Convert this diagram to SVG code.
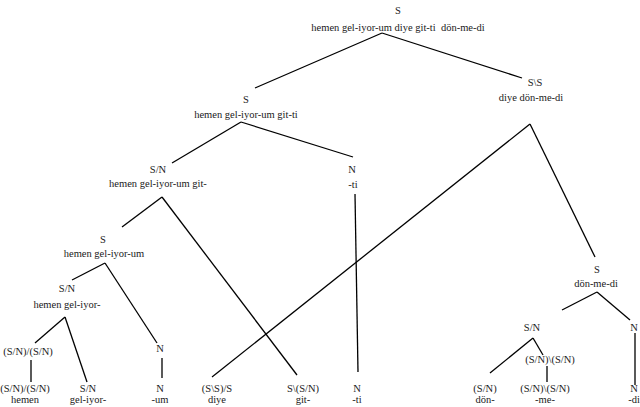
<svg xmlns="http://www.w3.org/2000/svg" width="640" height="407" viewBox="0 0 640 407">
<style>
text{font-family:'Liberation Serif','Times New Roman',serif;font-size:10.5px;fill:#1a1a1a;text-anchor:middle}
.e line{stroke:#000;stroke-width:1.3;fill:none}
</style>
<rect width="640" height="407" fill="#fff"/>
<g class="e" id="edges">
<line x1="382" y1="33" x2="255" y2="88"/>
<line x1="382" y1="33" x2="522" y2="78"/>
<line x1="241" y1="122" x2="172" y2="163"/>
<line x1="241" y1="122" x2="353" y2="157"/>
<line x1="162" y1="197" x2="122" y2="227"/>
<line x1="162" y1="197" x2="297" y2="375"/>
<line x1="355" y1="194" x2="358" y2="372"/>
<line x1="105" y1="263" x2="72" y2="280"/>
<line x1="105" y1="263" x2="157" y2="343"/>
<line x1="65" y1="317" x2="35" y2="343"/>
<line x1="65" y1="317" x2="87" y2="382"/>
<line x1="31" y1="360" x2="31" y2="382"/>
<line x1="162" y1="358" x2="162" y2="378"/>
<line x1="530" y1="124" x2="212" y2="377"/>
<line x1="530" y1="124" x2="595" y2="257"/>
<line x1="597" y1="292" x2="562" y2="310"/>
<line x1="597" y1="292" x2="630" y2="320"/>
<line x1="533" y1="338" x2="490" y2="373"/>
<line x1="533" y1="338" x2="543" y2="355"/>
<line x1="547" y1="366" x2="547" y2="382"/>
<line x1="635" y1="333" x2="635" y2="385"/>
</g>
<g id="root"><text x="398" y="14">S</text><text x="398" y="31">hemen gel-iyor-um diye git-ti&#160; dön-me-di</text></g>
<g id="n1"><text x="246" y="103">S</text><text x="246" y="118">hemen gel-iyor-um git-ti</text></g>
<g id="n2"><text x="535" y="86">S\S</text><text x="531" y="101">diye dön-me-di</text></g>
<g id="n3"><text x="158" y="173">S/N</text><text x="158" y="187">hemen gel-iyor-um git-</text></g>
<g id="n4"><text x="352" y="173">N</text><text x="353" y="188">-ti</text></g>
<g id="n5"><text x="103" y="243">S</text><text x="104" y="257">hemen gel-iyor-um</text></g>
<g id="n6"><text x="597" y="273">S</text><text x="596" y="287">dön-me-di</text></g>
<g id="n7"><text x="67" y="292">S/N</text><text x="67" y="308">hemen gel-iyor-</text></g>
<g id="n8"><text x="28" y="355">(S/N)/(S/N)</text></g>
<g id="n9"><text x="160" y="352">N</text></g>
<g id="n10"><text x="532" y="331">S/N</text></g>
<g id="n11"><text x="634" y="331">N</text></g>
<g id="n12"><text x="550" y="363">(S/N)\(S/N)</text></g>
<g id="l1"><text x="25" y="392">(S/N)/(S/N)</text><text x="25" y="403">hemen</text></g>
<g id="l2"><text x="88" y="392">S/N</text><text x="88" y="403">gel-iyor-</text></g>
<g id="l3"><text x="160" y="392">N</text><text x="160" y="403">-um</text></g>
<g id="l4"><text x="217" y="392">(S\S)/S</text><text x="217" y="403">diye</text></g>
<g id="l5"><text x="303" y="392">S\(S/N)</text><text x="303" y="403">git-</text></g>
<g id="l6"><text x="357" y="392">N</text><text x="357" y="403">-ti</text></g>
<g id="l7"><text x="485" y="392">(S/N)</text><text x="485" y="403">dön-</text></g>
<g id="l8"><text x="545" y="392">(S/N)\(S/N)</text><text x="545" y="403">-me-</text></g>
<g id="l9"><text x="634" y="392">N</text><text x="634" y="403">-di</text></g>
</svg>
